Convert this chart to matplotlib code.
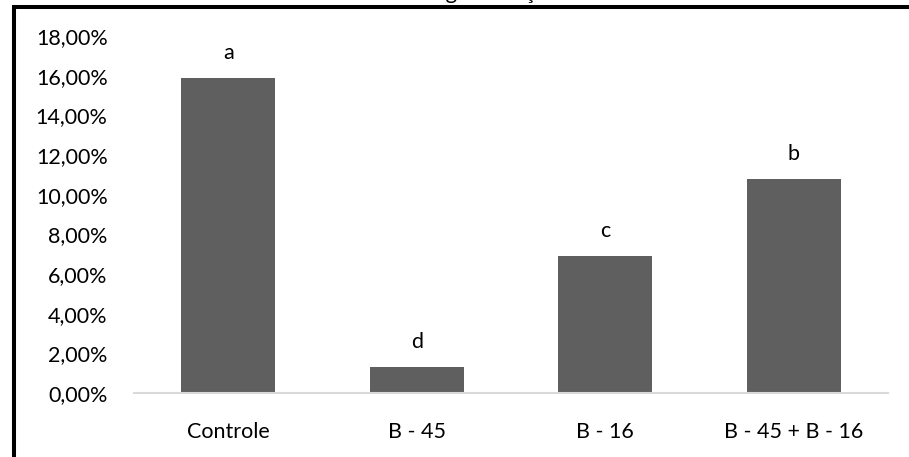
import matplotlib.pyplot as plt
from matplotlib.lines import Line2D
from matplotlib.ticker import FuncFormatter

plt.rcParams['font.family'] = ['Lato', 'DejaVu Sans']

# Taxa por tratamento (%)
tratamentos = ["Controle", "B - 45", "B - 16", "B - 45 + B - 16"]
taxas = [15.9, 1.3, 6.9, 10.8]
letras = ["a", "d", "c", "b"]

fig = plt.figure(figsize=(9.09, 4.57), dpi=100)
ax = fig.add_axes([0.1474, 0.140, 0.8296, 0.781])

x = range(len(tratamentos))
ax.bar(x, taxas, width=0.5, color="#5f5f5f", zorder=2)
for xi, v, l in zip(x, taxas, letras):
    ax.annotate(l, (xi, v), xytext=(0, 18), textcoords="offset points",
                ha="center", va="center", fontsize=15.5, color="#000000")

ax.set_xlim(-0.5, len(tratamentos) - 0.5)
ax.set_ylim(0, 18)
ax.set_yticks(range(0, 19, 2))
ax.yaxis.set_major_formatter(FuncFormatter(lambda v, _: f"{v:.2f}%".replace(".", ",")))
ax.set_xticks(list(x))
ax.set_xticklabels(tratamentos)
ax.tick_params(axis="both", length=0, labelsize=15.5, colors="#000000")
ax.tick_params(axis="y", pad=19)
ax.tick_params(axis="x", pad=21)

for s in ["top", "right", "left"]:
    ax.spines[s].set_visible(False)
ax.spines["bottom"].set_color("#d9d9d9")
ax.spines["bottom"].set_linewidth(1.5)

# título cortado no topo
fig.text(0.507, 1.0 + 1 / 457, "Taxa de germinação", ha="center", va="baseline",
         fontsize=16, color="#000000")

# moldura preta (esquerda e topo)
fig.add_artist(Line2D([14 / 909, 14 / 909], [0, 1 - 5 / 457], transform=fig.transFigure,
                      color="black", lw=2.9, solid_capstyle="butt"))
fig.add_artist(Line2D([12 / 909, 1], [1 - 6.5 / 457, 1 - 6.5 / 457], transform=fig.transFigure,
                      color="black", lw=2.9, solid_capstyle="butt"))

fig.savefig("out.png", dpi=100)
